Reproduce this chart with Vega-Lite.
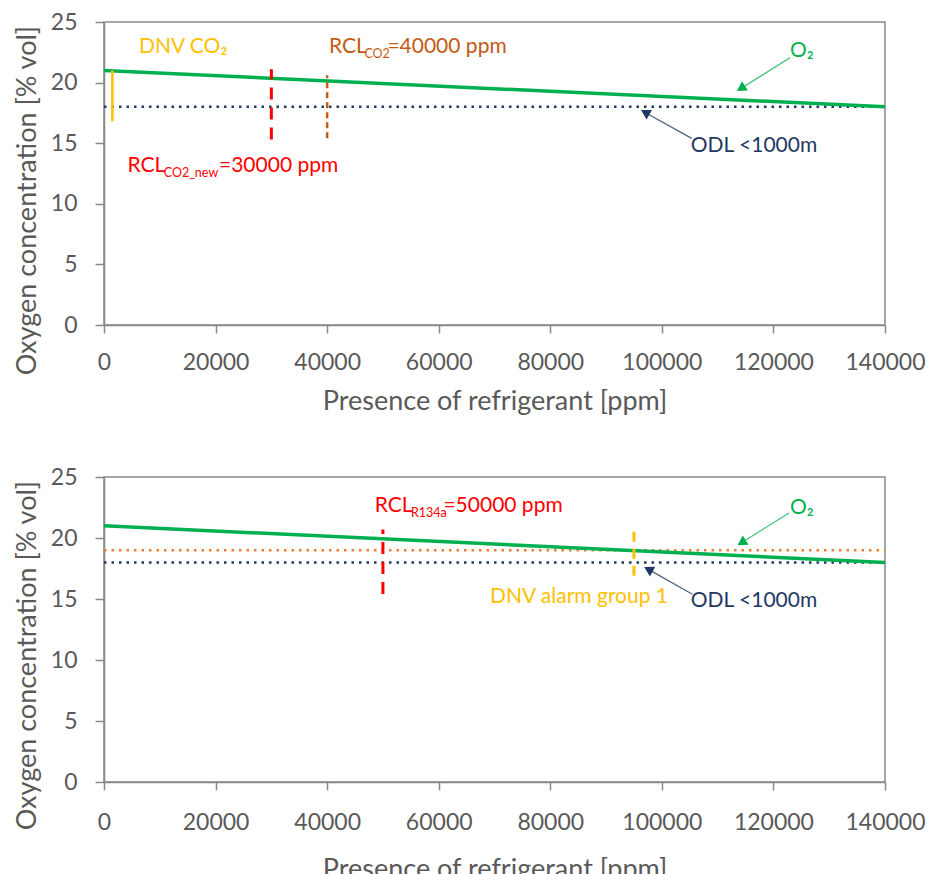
{
  "$schema": "https://vega.github.io/schema/vega-lite/v6.json",
  "padding": {"left": 12, "top": 10, "right": 5, "bottom": 0},
  "background": "white",
  "spacing": 50,
  "config": {
    "font": "Lato",
    "view": {"stroke": "#898989", "strokeWidth": 1.5},
    "axis": {
      "labelFont": "Lato", "labelFontSize": 23, "labelColor": "#595959", "labelOverlap": false, "labelFlush": false,
      "titleFont": "Lato", "titleFontSize": 27, "titleColor": "#595959", "titleFontWeight": "normal",
      "domainColor": "#898989", "domainWidth": 1.5, "tickColor": "#898989", "tickWidth": 1.5,
      "labelPadding": 18, "grid": false
    },
    "axisX": {"tickSize": 8, "titlePadding": 14},
    "axisY": {"tickSize": 9, "titlePadding": 9}
  },
  "datasets": {
    "lines": [
      {"panel": "top", "series": "O2", "x": 0, "y": 21},
      {"panel": "top", "series": "O2", "x": 140000, "y": 18},
      {"panel": "top", "series": "ODL", "x": 0, "y": 18},
      {"panel": "top", "series": "ODL", "x": 140000, "y": 18},
      {"panel": "bottom", "series": "O2", "x": 0, "y": 21},
      {"panel": "bottom", "series": "O2", "x": 140000, "y": 18},
      {"panel": "bottom", "series": "ODL", "x": 0, "y": 18},
      {"panel": "bottom", "series": "ODL", "x": 140000, "y": 18},
      {"panel": "bottom", "series": "Alarm", "x": 0, "y": 19},
      {"panel": "bottom", "series": "Alarm", "x": 140000, "y": 19}
    ],
    "markers": [
      {"panel": "top", "series": "DNV CO2", "x": 1500, "y": 16.8, "y2": 21.0},
      {"panel": "top", "series": "RCL CO2 new", "x": 30000, "y": 15.3, "y2": 21.1},
      {"panel": "top", "series": "RCL CO2", "x": 40000, "y": 15.4, "y2": 20.6},
      {"panel": "bottom", "series": "RCL R134a", "x": 50000, "y": 15.4, "y2": 20.7},
      {"panel": "bottom", "series": "DNV alarm group 1", "x": 95000, "y": 16.9, "y2": 20.7}
    ],
    "arrows": [
      {"panel": "top", "series": "O2", "x": 122972, "y": 22.05, "x2": 114171, "y2": 19.52},
      {"panel": "top", "series": "ODL", "x": 105351, "y": 15.40, "x2": 96998, "y2": 17.54},
      {"panel": "bottom", "series": "O2", "x": 122793, "y": 22.05, "x2": 114296, "y2": 19.62},
      {"panel": "bottom", "series": "ODL", "x": 105477, "y": 15.39, "x2": 97589, "y2": 17.43}
    ],
    "labels": [
      {"panel": "top", "series": "DNV CO2", "part": "main", "text": "DNV CO₂", "x": 6274, "y": 22.42},
      {"panel": "top", "series": "RCL CO2", "part": "main", "text": "RCL", "x": 40334, "y": 22.42},
      {"panel": "top", "series": "RCL CO2", "part": "sub", "text": "CO2", "x": 46141, "y": 22.42},
      {"panel": "top", "series": "RCL CO2", "part": "main", "text": "=40000 ppm", "x": 50802, "y": 22.42},
      {"panel": "top", "series": "RCL CO2 new", "part": "main", "text": "RCL", "x": 4195, "y": 12.65},
      {"panel": "top", "series": "RCL CO2 new", "part": "sub", "text": "CO2_new", "x": 10164, "y": 12.65},
      {"panel": "top", "series": "RCL CO2 new", "part": "main", "text": "=30000 ppm", "x": 20615, "y": 12.65},
      {"panel": "top", "series": "O2", "part": "main", "text": "O₂", "x": 122972, "y": 22.14},
      {"panel": "top", "series": "ODL", "part": "main", "text": "ODL <1000m", "x": 105172, "y": 14.30},
      {"panel": "bottom", "series": "RCL R134a", "part": "main", "text": "RCL", "x": 48526, "y": 22.13},
      {"panel": "bottom", "series": "RCL R134a", "part": "sub", "text": "R134a", "x": 54495, "y": 22.13},
      {"panel": "bottom", "series": "RCL R134a", "part": "main", "text": "=50000 ppm", "x": 60841, "y": 22.13},
      {"panel": "bottom", "series": "DNV alarm group 1", "part": "main", "text": "DNV alarm group 1", "x": 69194, "y": 14.70},
      {"panel": "bottom", "series": "O2", "part": "main", "text": "O₂", "x": 122972, "y": 22.0},
      {"panel": "bottom", "series": "ODL", "part": "main", "text": "ODL <1000m", "x": 105172, "y": 14.34}
    ]
  },
  "vconcat": [
    {
      "width": 781, "height": 303,
      "encoding": {
        "x": {"field": "x", "type": "quantitative", "scale": {"domain": [0, 140000], "nice": false},
              "axis": {"values": [0, 20000, 40000, 60000, 80000, 100000, 120000, 140000], "format": "d", "title": "Presence of refrigerant [ppm]"}},
        "y": {"field": "y", "type": "quantitative", "scale": {"domain": [0, 25], "nice": false},
              "axis": {"values": [0, 5, 10, 15, 20, 25], "title": "Oxygen concentration [% vol]", "titleY": 178}},
        "color": {"field": "series", "type": "nominal", "legend": null,
                  "scale": {"domain": ["O2", "ODL", "Alarm", "DNV CO2", "DNV alarm group 1", "RCL CO2 new", "RCL R134a", "RCL CO2"],
                            "range": ["#00B050", "#1F3864", "#ED7D31", "#FFC000", "#FFC000", "#FF0000", "#FF0000", "#C55A11"]}}
      },
      "layer": [
        {"data": {"name": "lines"}, "transform": [{"filter": "datum.panel == 'top' && datum.series != 'O2'"}],
         "mark": {"type": "line", "strokeWidth": 2.5, "strokeDash": [2.5, 5]}, "encoding": {"detail": {"field": "series"}}},
        {"data": {"name": "lines"}, "transform": [{"filter": "datum.panel == 'top' && datum.series == 'O2'"}],
         "mark": {"type": "line", "strokeWidth": 3.5}},
        {"data": {"name": "markers"}, "transform": [{"filter": "datum.panel == 'top' && datum.series == 'DNV CO2'"}],
         "mark": {"type": "rule", "strokeWidth": 2.5}, "encoding": {"y2": {"field": "y2"}}},
        {"data": {"name": "markers"}, "transform": [{"filter": "datum.panel == 'top' && datum.series == 'RCL CO2 new'"}],
         "mark": {"type": "rule", "strokeWidth": 3, "strokeDash": [12, 8]}, "encoding": {"y2": {"field": "y2"}}},
        {"data": {"name": "markers"}, "transform": [{"filter": "datum.panel == 'top' && datum.series == 'RCL CO2'"}],
         "mark": {"type": "rule", "strokeWidth": 2.5, "strokeDash": [6, 4]}, "encoding": {"y2": {"field": "y2"}}},
        {"data": {"name": "arrows"}, "transform": [{"filter": "datum.panel == 'top'"}],
         "mark": {"type": "rule", "strokeWidth": 1.2, "opacity": 0.8}, "encoding": {"x2": {"field": "x2"}, "y2": {"field": "y2"}}},
        {"data": {"name": "arrows"}, "transform": [{"filter": "datum.panel == 'top' && datum.series == 'O2'"}],
         "mark": {"type": "point", "shape": "triangle-up", "filled": true, "size": 120, "angle": 238, "opacity": 1},
         "encoding": {"x": {"field": "x2", "type": "quantitative"}, "y": {"field": "y2", "type": "quantitative"}}},
        {"data": {"name": "arrows"}, "transform": [{"filter": "datum.panel == 'top' && datum.series == 'ODL'"}],
         "mark": {"type": "point", "shape": "triangle-up", "filled": true, "size": 120, "angle": 299, "opacity": 1},
         "encoding": {"x": {"field": "x2", "type": "quantitative"}, "y": {"field": "y2", "type": "quantitative"}}},
        {"data": {"name": "labels"}, "transform": [{"filter": "datum.panel == 'top' && datum.part == 'main'"}],
         "mark": {"type": "text", "align": "left", "baseline": "alphabetic", "fontSize": 21, "font": "Lato"},
         "encoding": {"text": {"field": "text"}}},
        {"data": {"name": "labels"}, "transform": [{"filter": "datum.panel == 'top' && datum.part == 'sub'"}],
         "mark": {"type": "text", "align": "left", "baseline": "alphabetic", "fontSize": 12.5, "dy": 5, "dx": 3, "font": "Lato"},
         "encoding": {"text": {"field": "text"}}}
      ]
    },
    {
      "width": 781, "height": 305,
      "encoding": {
        "x": {"field": "x", "type": "quantitative", "scale": {"domain": [0, 140000], "nice": false},
              "axis": {"values": [0, 20000, 40000, 60000, 80000, 100000, 120000, 140000], "format": "d", "title": "Presence of refrigerant [ppm]", "labelPadding": 21, "titlePadding": 22}},
        "y": {"field": "y", "type": "quantitative", "scale": {"domain": [0, 25], "nice": false},
              "axis": {"values": [0, 5, 10, 15, 20, 25], "title": "Oxygen concentration [% vol]", "titleY": 178}},
        "color": {"field": "series", "type": "nominal", "legend": null,
                  "scale": {"domain": ["O2", "ODL", "Alarm", "DNV CO2", "DNV alarm group 1", "RCL CO2 new", "RCL R134a", "RCL CO2"],
                            "range": ["#00B050", "#1F3864", "#ED7D31", "#FFC000", "#FFC000", "#FF0000", "#FF0000", "#C55A11"]}}
      },
      "layer": [
        {"data": {"name": "lines"}, "transform": [{"filter": "datum.panel == 'bottom' && datum.series != 'O2'"}],
         "mark": {"type": "line", "strokeWidth": 2.5, "strokeDash": [2.5, 5]}, "encoding": {"detail": {"field": "series"}}},
        {"data": {"name": "lines"}, "transform": [{"filter": "datum.panel == 'bottom' && datum.series == 'O2'"}],
         "mark": {"type": "line", "strokeWidth": 3.5}},
        {"data": {"name": "markers"}, "transform": [{"filter": "datum.panel == 'bottom' && datum.series == 'RCL R134a'"}],
         "mark": {"type": "rule", "strokeWidth": 3, "strokeDash": [12, 8]}, "encoding": {"y2": {"field": "y2"}}},
        {"data": {"name": "markers"}, "transform": [{"filter": "datum.panel == 'bottom' && datum.series == 'DNV alarm group 1'"}],
         "mark": {"type": "rule", "strokeWidth": 3, "strokeDash": [10, 7]}, "encoding": {"y2": {"field": "y2"}}},
        {"data": {"name": "arrows"}, "transform": [{"filter": "datum.panel == 'bottom'"}],
         "mark": {"type": "rule", "strokeWidth": 1.2, "opacity": 0.8}, "encoding": {"x2": {"field": "x2"}, "y2": {"field": "y2"}}},
        {"data": {"name": "arrows"}, "transform": [{"filter": "datum.panel == 'bottom' && datum.series == 'O2'"}],
         "mark": {"type": "point", "shape": "triangle-up", "filled": true, "size": 120, "angle": 238, "opacity": 1},
         "encoding": {"x": {"field": "x2", "type": "quantitative"}, "y": {"field": "y2", "type": "quantitative"}}},
        {"data": {"name": "arrows"}, "transform": [{"filter": "datum.panel == 'bottom' && datum.series == 'ODL'"}],
         "mark": {"type": "point", "shape": "triangle-up", "filled": true, "size": 120, "angle": 299, "opacity": 1},
         "encoding": {"x": {"field": "x2", "type": "quantitative"}, "y": {"field": "y2", "type": "quantitative"}}},
        {"data": {"name": "labels"}, "transform": [{"filter": "datum.panel == 'bottom' && datum.part == 'main'"}],
         "mark": {"type": "text", "align": "left", "baseline": "alphabetic", "fontSize": 21, "font": "Lato"},
         "encoding": {"text": {"field": "text"}}},
        {"data": {"name": "labels"}, "transform": [{"filter": "datum.panel == 'bottom' && datum.part == 'sub'"}],
         "mark": {"type": "text", "align": "left", "baseline": "alphabetic", "fontSize": 12.5, "dy": 5, "dx": 3, "font": "Lato"},
         "encoding": {"text": {"field": "text"}}}
      ]
    }
  ]
}
